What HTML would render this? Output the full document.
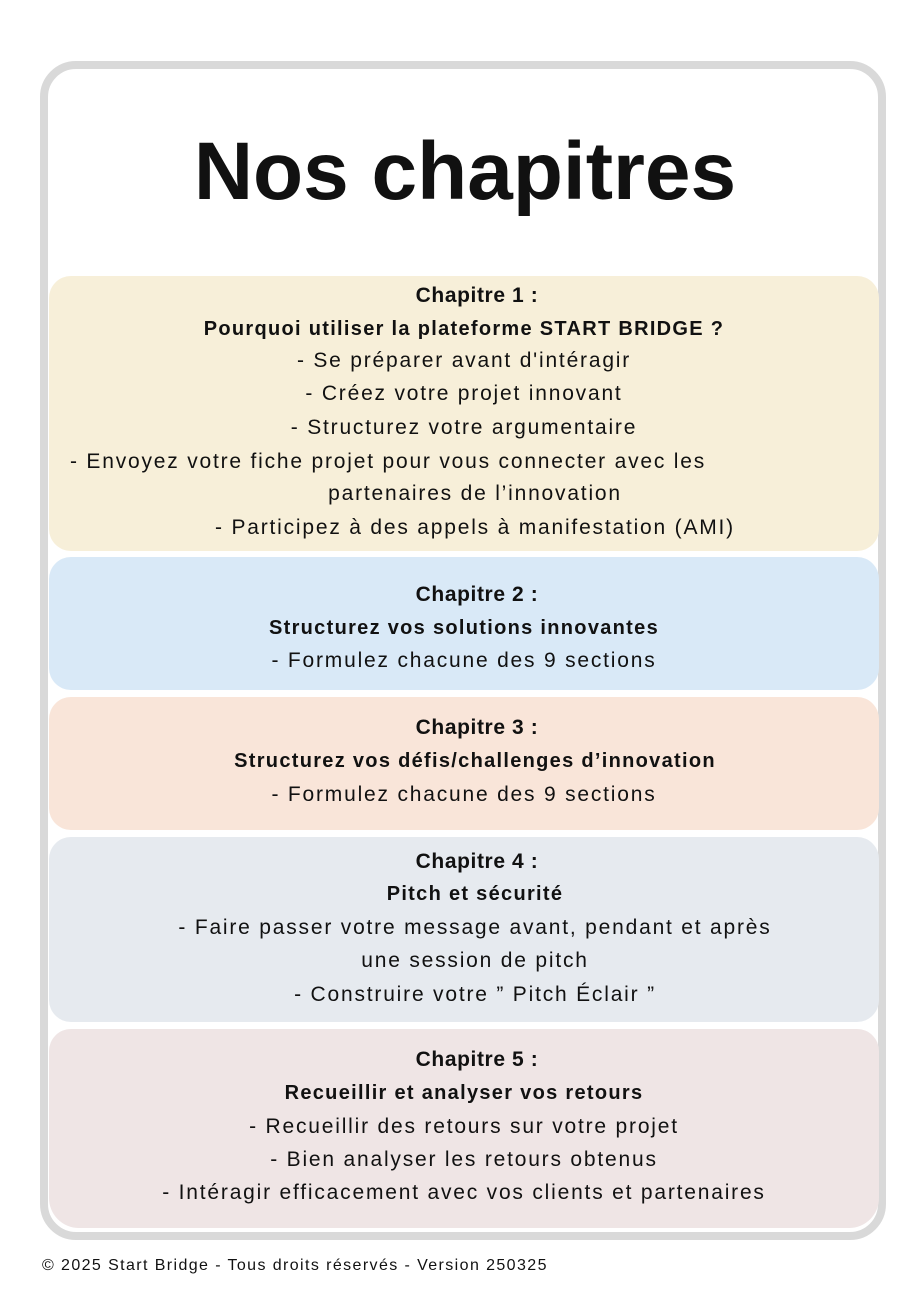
<!DOCTYPE html>
<html><head><meta charset="utf-8"><style>
body{margin:0;width:922px;height:1315px;background:#fff;position:relative;font-family:"Liberation Sans",sans-serif;color:#111;overflow:hidden}
.frame{position:absolute;left:40px;top:61px;width:830px;height:1163px;border:8px solid #d9d9d9;border-radius:36px}
.box{position:absolute;left:49px;width:830px;border-radius:22px}
.l{position:absolute;left:49px;width:830px;text-align:center;font-size:21px;letter-spacing:1.8px;line-height:24px;white-space:nowrap}
.h{font-weight:bold;font-size:21px;letter-spacing:0.6px}
.s{font-weight:bold;font-size:20px;letter-spacing:1.3px}
h1{position:absolute;top:124px;left:0;width:922px;text-align:center;margin:0;font-size:82px;line-height:96px;font-weight:bold}
.foot{position:absolute;left:42px;top:1257px;font-size:16px;letter-spacing:1.4px}
</style></head><body>
<div class="frame"></div>
<h1 style="left:4px">Nos chapitres</h1>
<div class="box" style="top:276px;height:275px;background:#f7efd9"></div>
<div class="box" style="top:557px;height:133px;background:#d9e9f7"></div>
<div class="box" style="top:697px;height:133px;background:#f9e5d9"></div>
<div class="box" style="top:837px;height:185px;background:#e6eaef"></div>
<div class="box" style="top:1029px;height:199px;background:#efe5e5;border-radius:22px 22px 30px 30px"></div>

<div class="l h" style="top:284px;left:0;width:954px">Chapitre 1 :</div>
<div class="l s" style="top:317px">Pourquoi utiliser la plateforme START BRIDGE ?</div>
<div class="l" style="top:349px">- Se préparer avant d'intéragir</div>
<div class="l" style="top:382px">- Créez votre projet innovant</div>
<div class="l" style="top:416px">- Structurez votre argumentaire</div>
<div class="l" style="top:450px;left:70px;width:auto;text-align:left">- Envoyez votre fiche projet pour vous connecter avec les</div>
<div class="l" style="top:482px;left:0;width:950px">partenaires de l’innovation</div>
<div class="l" style="top:516px;left:0;width:950px">- Participez à des appels à manifestation (AMI)</div>

<div class="l h" style="top:583px;left:0;width:954px">Chapitre 2 :</div>
<div class="l s" style="top:616px">Structurez vos solutions innovantes</div>
<div class="l" style="top:649px">- Formulez chacune des 9 sections</div>

<div class="l h" style="top:716px;left:0;width:954px">Chapitre 3 :</div>
<div class="l s" style="top:749px;left:0;width:950px">Structurez vos défis/challenges d’innovation</div>
<div class="l" style="top:783px">- Formulez chacune des 9 sections</div>

<div class="l h" style="top:850px;left:0;width:954px">Chapitre 4 :</div>
<div class="l s" style="top:882px;left:0;width:950px">Pitch et sécurité</div>
<div class="l" style="top:916px;left:0;width:950px">- Faire passer votre message avant, pendant et après</div>
<div class="l" style="top:949px;left:0;width:950px">une session de pitch</div>
<div class="l" style="top:983px;left:0;width:950px">- Construire votre ” Pitch Éclair ”</div>

<div class="l h" style="top:1048px;left:0;width:954px">Chapitre 5 :</div>
<div class="l s" style="top:1081px">Recueillir et analyser vos retours</div>
<div class="l" style="top:1115px">- Recueillir des retours sur votre projet</div>
<div class="l" style="top:1148px">- Bien analyser les retours obtenus</div>
<div class="l" style="top:1181px">- Intéragir efficacement avec vos clients et partenaires</div>

<div class="foot">© 2025 Start Bridge - Tous droits réservés - Version 250325</div>
</body></html>
